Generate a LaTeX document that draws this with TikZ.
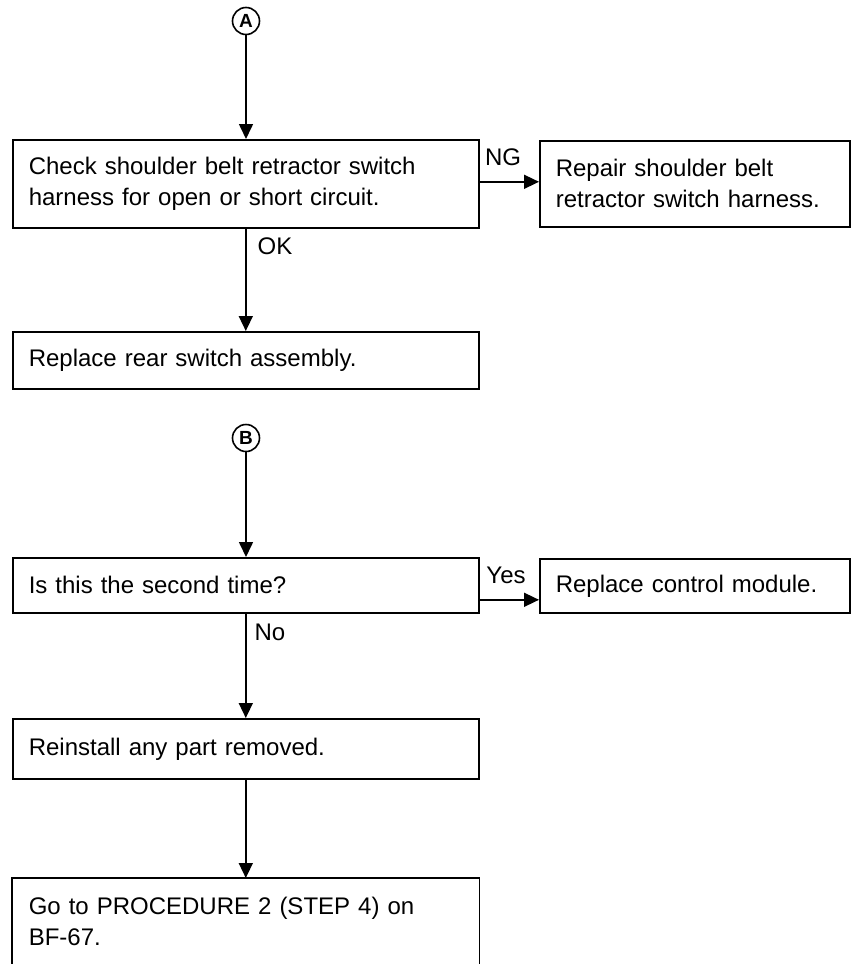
\documentclass[tikz,border=0pt]{standalone}
\usepackage{fontspec}
\setmainfont{Liberation Sans}
\usetikzlibrary{arrows.meta,calc}
\begin{document}
\begin{tikzpicture}[x=1pt,y=-1pt,
  box/.style={draw, line width=1.6pt, rectangle, inner xsep=16pt, inner ysep=0pt, align=left, font=\fontsize{24}{31}\selectfont, anchor=north west},
  conn/.style={line width=1.6pt, -{Triangle[length=15pt,width=14pt]}},
  lbl/.style={font=\fontsize{24}{28}\selectfont},
  circ/.style={circle, draw, line width=1.6pt, minimum size=27pt, inner sep=0pt, font=\fontsize{19}{19}\selectfont\bfseries}]
\useasboundingbox (0,0) rectangle (855,964);

\node[circ] (A) at (246,21) {A};
\node[box, text width=434pt, minimum height=88pt] (b1) at (12,139) {Check shoulder belt retractor switch\\harness for open or short circuit.};
\node[box, text width=278pt, minimum height=86pt] (b2) at (539,140) {Repair shoulder belt\\retractor switch harness.};
\node[box, text width=434pt, minimum height=57pt] (b3) at (12,331) {Replace rear switch assembly.};

\node[circ] (B) at (246,438) {B};
\node[box, text width=434pt, minimum height=55pt] (b4) at (12,557) {Is this the second time?};
\node[box, text width=278pt, minimum height=54pt] (b5) at (539,558) {Replace control module.};
\node[box, text width=434pt, minimum height=60pt] (b6) at (12,718) {Reinstall any part removed.};
\node[box, draw=none, text width=434pt, minimum height=86pt] (b7) at (12,878) {Go to PROCEDURE 2 (STEP 4) on\\BF-67.};
\draw[line width=1.6pt] (b7.south west) -- (b7.north west) -- (b7.north east) -- (b7.south east);

\node[lbl] (ng) at (503,157) {NG};
\node[lbl] (ok) at (275,246) {OK};
\node[lbl] (yes) at (506,575) {Yes};
\node[lbl] (no) at (270,632) {No};

\draw[conn] (A.south) -- (A.south |- b1.north);
\draw[conn] ([yshift=2pt]b1.east) -- ([yshift=2pt]b1.east -| b2.west);
\draw[conn] (b1.south) -- (b3.north);
\draw[conn] (B.south) -- (B.south |- b4.north);
\draw[conn] ([yshift=-14.5pt]b4.east) -- ([yshift=-14.5pt]b4.east -| b5.west);
\draw[conn] (b4.south) -- (b6.north);
\draw[conn] (b6.south) -- (b7.north);
\end{tikzpicture}
\end{document}
